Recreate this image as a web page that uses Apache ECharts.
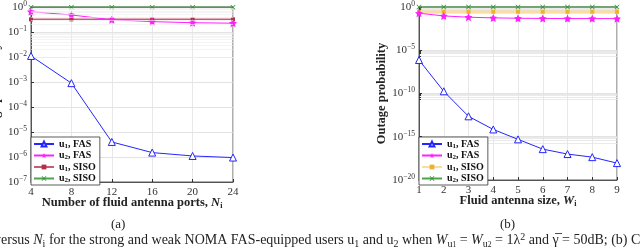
<!DOCTYPE html>
<html><head><meta charset="utf-8">
<script src="https://cdn.jsdelivr.net/npm/echarts@6/dist/echarts.min.js"></script>
<style>html,body{margin:0;padding:0;background:#fff}#c{width:640px;height:251px}</style>
</head><body><div id="c"></div>
<script>
// ---- data (a) ----
const portsN = [4, 8, 12, 16, 20, 24];
const u1FasA = [1.1e-2, 9e-4, 4e-6, 1.5e-6, 1.1e-6, 9.5e-7];
const u2FasA = [0.65, 0.48, 0.31, 0.26, 0.235, 0.225];
const u1SisoA = [0.32, 0.32, 0.32, 0.32, 0.32, 0.32];
const u2SisoA = [0.97, 0.97, 0.97, 0.97, 0.97, 0.97];
// ---- data (b) ----
const sizeW = [1, 2, 3, 4, 5, 6, 7, 8, 9];
const u1FasB = [7.4e-7, 1.8e-10, 2.3e-13, 7e-15, 5e-16, 3.7e-17, 1e-17, 4.4e-18, 9e-19];
const u2FasB = [0.19, 0.093, 0.066, 0.055, 0.05, 0.048, 0.046, 0.046, 0.045];
const u1SisoB = [0.28, 0.28, 0.28, 0.28, 0.28, 0.28, 0.28, 0.28, 0.28];
const u2SisoB = [0.97, 0.97, 0.97, 0.97, 0.97, 0.97, 0.97, 0.97, 0.97];
const xTicksA = [4, 8, 12, 16, 20, 24];
const xTicksB = [1, 2, 3, 4, 5, 6, 7, 8, 9];

const SERIF = 'Liberation Serif';
const STAR = 'path://M0,-10L2.9,-4L9.5,-3.1L4.7,1.5L5.9,8.1L0,5L-5.9,8.1L-4.7,1.5L-9.5,-3.1L-2.9,-4Z';
const XMARK = 'path://M0,1L1,0L5,4L9,0L10,1L6,5L10,9L9,10L5,6L1,10L0,9L4,5Z';

function zip(xs, ys) { return xs.map((x, i) => [x, ys[i]]); }

const supRich = {
  b: { fontFamily: SERIF, fontSize: 11, color: '#333' },
  s: { fontFamily: SERIF, fontSize: 7.5, color: '#333', verticalAlign: 'top', padding: [0, 0, 6, 0] }
};
function logLabel(v) {
  const e = Math.round(Math.log10(v));
  return '{b|10}{s|' + (e === 0 ? '0' : '\u2212' + (-e)) + '}';
}

// minor grid lines (2..9 per decade) for (a)
const minorA = [];
for (let d = -7; d < 0; d++) for (let m = 2; m <= 9; m++) minorA.push({ yAxis: m * Math.pow(10, d) });

const legendNames = {
  a1: ['1', 'FAS'], a2: ['2', 'FAS'], a3: ['1', 'SISO'], a4: ['2', 'SISO'],
  b1: ['1', 'FAS'], b2: ['2', 'FAS'], b3: ['1', 'SISO'], b4: ['2', 'SISO']
};
const legRich = {
  t: { fontFamily: SERIF, fontSize: 10, fontWeight: 'bold', color: '#111' },
  u: { fontFamily: SERIF, fontSize: 7, fontWeight: 'bold', color: '#111', verticalAlign: 'bottom', padding: [4, 0, 0, 0] }
};
function legFmt(n) { const p = legendNames[n]; return '{t|u}{u|' + p[0] + '}{t|, ' + p[1] + '}'; }

function axisX(gi, min, max, interval, nameRich) {
  return {
    type: 'value', gridIndex: gi, min: min, max: max, interval: interval,
    axisLine: { show: true, lineStyle: { color: '#333', width: 0.8 } },
    axisTick: { show: true, inside: true, length: 3, lineStyle: { color: '#333' } },
    axisLabel: { fontFamily: SERIF, fontSize: 11, color: '#333', margin: 5 },
    splitLine: { show: true, lineStyle: { color: '#e2e2e2', width: 0.8 } },
    name: nameRich, nameLocation: 'middle', nameGap: 14, nameMoveOverlap: false,
    nameTextStyle: {
      rich: {
        n: { fontFamily: SERIF, fontSize: 12.5, fontWeight: 'bold', color: '#222' },
        i: { fontFamily: SERIF, fontSize: 12.5, fontWeight: 'bold', fontStyle: 'italic', color: '#222' },
        s: { fontFamily: SERIF, fontSize: 8, fontWeight: 'bold', color: '#222', verticalAlign: 'bottom', padding: [6, 0, 0, 0] }
      }
    }
  };
}
function axisY(gi, min, max, nm, extra) {
  return Object.assign({
    type: 'log', logBase: 10, gridIndex: gi, min: min, max: max,
    axisLine: { show: true, lineStyle: { color: '#333', width: 0.8 } },
    axisTick: { show: true, inside: true, length: 3, lineStyle: { color: '#333' } },
    axisLabel: { formatter: logLabel, rich: supRich, margin: 4 },
    splitLine: { show: true, lineStyle: { color: '#dcdcdc', width: 0.8 } },
    name: nm, nameLocation: 'middle', nameGap: 31, nameRotate: 90, nameMoveOverlap: false,
    nameTextStyle: { fontFamily: SERIF, fontSize: 12.5, fontWeight: 'bold', color: '#222' }
  }, extra || {});
}

function line(name, xi, yi, data, color, sym, size, extra) {
  return Object.assign({
    name: name, type: 'line', xAxisIndex: xi, yAxisIndex: yi, data: data,
    symbol: sym, symbolSize: size, showSymbol: true, animation: false,
    lineStyle: { color: color, width: 1 },
    itemStyle: { color: color }
  }, extra || {});
}

const legendBase = {
  formatter: legFmt, textStyle: { rich: legRich },
  orient: 'vertical', itemWidth: 20, itemHeight: 6, itemGap: 1,
  padding: [2, 4, 1, 2], backgroundColor: '#fff', borderColor: '#333', borderWidth: 0.8, borderRadius: 0
};

const chart = echarts.init(document.getElementById('c'), null, { renderer: 'canvas' });
chart.setOption({
  animation: false,
  backgroundColor: '#fff',
  grid: [
    { left: 31, top: 7, width: 202, height: 175, show: true, borderColor: '#333', borderWidth: 0.8, backgroundColor: 'transparent' },
    { left: 419, top: 6, width: 198, height: 174, show: true, borderColor: '#333', borderWidth: 0.8, backgroundColor: 'transparent' }
  ],
  xAxis: [
    axisX(0, xTicksA[0], xTicksA[xTicksA.length - 1], 4, '{n|Number of fluid antenna ports, }{i|N}{s|i}'),
    axisX(1, xTicksB[0], xTicksB[xTicksB.length - 1], 1, '{n|Fluid antenna size, }{i|W}{s|i}')
  ],
  yAxis: [
    axisY(0, 1e-7, 1, '', { interval: 1 }),
    axisY(1, 1e-20, 1, 'Outage probability', {
      interval: 5,
      minorTick: { show: true, splitNumber: 5, length: 2 },
      minorSplitLine: { show: true, lineStyle: { color: '#e4e4e4', width: 0.8 } }
    })
  ],
  legend: [
    Object.assign({ data: ['a1', 'a2', 'a3', 'a4'], left: 31, top: 137 }, legendBase),
    Object.assign({ data: ['b1', 'b2', 'b3', 'b4'], left: 419, top: 137 }, legendBase)
  ],
  graphic: [
    { type: 'text', x: -4, y: 94, rotation: Math.PI / 2,
      style: { text: 'Outage probability', fontFamily: SERIF, fontSize: 12.5, fontWeight: 'bold', fill: '#222', align: 'center', verticalAlign: 'middle' } },
    { type: 'text', left: 111, top: 218, style: { text: '(a)', fontFamily: SERIF, fontSize: 13, fill: '#222' } },
    { type: 'text', left: 500, top: 218, style: { text: '(b)', fontFamily: SERIF, fontSize: 13, fill: '#222' } },
    {
      type: 'text', x: -6, y: 232, style: {
        text: 'versus {i|N}{s|i} for the strong and weak NOMA FAS-equipped users u{s|1} and u{s|2} when {i|W}{s|u}{ss|1} = {i|W}{s|u}{ss|2} = 1\u03bb{p|2} and \u03b3\u0305 = 50dB; (b) C',
        fontFamily: SERIF, fontSize: 14, fill: '#222',
        rich: {
          i: { fontFamily: SERIF, fontSize: 14, fontStyle: 'italic', fill: '#222' },
          s: { fontFamily: SERIF, fontSize: 10, fill: '#222', verticalAlign: 'bottom', padding: [6, 0, 0, 0] },
          ss: { fontFamily: SERIF, fontSize: 7.5, fill: '#222', verticalAlign: 'bottom', padding: [9, 0, 0, 0] },
          p: { fontFamily: SERIF, fontSize: 10, fill: '#222', verticalAlign: 'top', padding: [0, 0, 6, 0] }
        }
      }
    }
  ],
  series: [
    line('a1', 0, 0, zip(portsN, u1FasA), '#2525ff', 'triangle', 7, {
      itemStyle: { color: '#fff', borderColor: '#2525ff', borderWidth: 1 }, z: 5,
      markLine: { silent: true, symbol: ['none', 'none'], label: { show: false }, animation: false,
        lineStyle: { color: '#ececec', width: 0.6, type: 'solid' }, emphasis: { disabled: true }, data: minorA }
    }),
    line('a2', 0, 0, zip(portsN, u2FasA), '#ff20ff', STAR, 8, { z: 4 }),
    line('a3', 0, 0, zip(portsN, u1SisoA), '#b0304a', 'rect', 4, { lineStyle: { color: '#c0405a', width: 1.5, opacity: 0.85 }, z: 3 }),
    line('a4', 0, 0, zip(portsN, u2SisoA), '#2a8f2a', XMARK, 5, { lineStyle: { color: '#3a9a3a', width: 1.5, opacity: 0.9 }, z: 3 }),
    line('b1', 1, 1, zip(sizeW, u1FasB), '#2525ff', 'triangle', 7, {
      itemStyle: { color: '#fff', borderColor: '#2525ff', borderWidth: 1 }, z: 5
    }),
    line('b2', 1, 1, zip(sizeW, u2FasB), '#ff20ff', STAR, 8, { z: 4 }),
    line('b3', 1, 1, zip(sizeW, u1SisoB), '#f0b030', 'rect', 4, { lineStyle: { color: '#f5c860', width: 2.5, opacity: 0.6 }, z: 3 }),
    line('b4', 1, 1, zip(sizeW, u2SisoB), '#2a8f2a', XMARK, 5, { lineStyle: { color: '#3a9a3a', width: 1.5, opacity: 0.9 }, z: 3 })
  ]
});
</script></body></html>
